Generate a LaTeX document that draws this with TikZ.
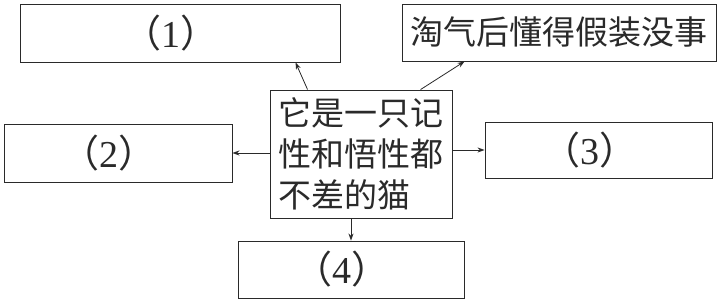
\documentclass[tikz,border=0pt]{standalone}
\usepackage{fontspec}
\setmainfont{Liberation Serif}
\newfontfamily\cjk{Noto Sans CJK SC}
\usetikzlibrary{arrows.meta}
\definecolor{ink}{HTML}{2A2A2A}
\tikzset{
  box/.style={draw=ink, line width=0.9pt, inner sep=0pt, text=ink, font=\fontsize{38}{40}\selectfont},
  arr/.style={draw=ink, line width=0.8pt, -{Stealth[length=7pt,width=5pt]}},
}
\newcommand{\lab}[1]{{\cjk （}#1{\cjk ）}\kern18pt}
\begin{document}
\begin{tikzpicture}[x=1pt,y=-1pt]
\useasboundingbox[fill=white] (0,0) rectangle (720,302);
\node[box, minimum width=320pt, minimum height=58pt] (b1) at (180,33) {\lab{1}};
\node[box, minimum width=314pt, minimum height=57pt, font=\fontsize{33}{40}\selectfont] (b5) at (559,32.5) {\cjk 淘气后懂得假装没事};
\node[box, minimum width=182pt, minimum height=128pt, align=left, font=\fontsize{33}{41}\selectfont\cjk] (c) at (361,154) {它是一只记\\性和悟性都\\不差的猫};
\node[box, minimum width=228pt, minimum height=58pt] (b2) at (118,153) {\lab{2}};
\node[box, minimum width=227pt, minimum height=56pt] (b3) at (598.5,150) {\lab{3}};
\node[box, minimum width=226pt, minimum height=57pt] (b4) at (351,269.5) {\lab{4}};
\draw[arr] ([xshift=38pt]c.north west) -- ([xshift=276pt]b1.south west);
\draw[arr] ([xshift=151pt]c.north west) -- ([xshift=63pt]b5.south west);
\draw[arr] (c.west |- b2.east) -- (b2.east);
\draw[arr] (c.east |- b3.west) -- (b3.west);
\draw[arr] (b4.north |- c.south) -- (b4.north);
\end{tikzpicture}
\end{document}
